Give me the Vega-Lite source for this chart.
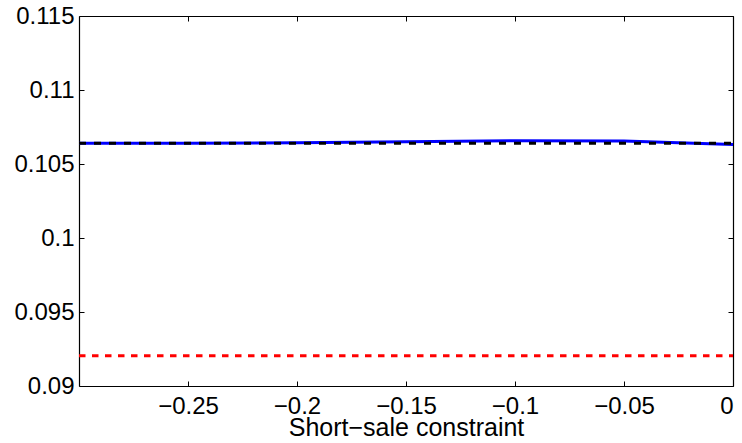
{
  "$schema": "https://vega.github.io/schema/vega-lite/v6.json",
  "width": 654,
  "height": 370,
  "autosize": {"type": "none"},
  "padding": {"left": 79, "top": 16, "right": 9, "bottom": 57},
  "background": "white",
  "config": {
    "view": {"stroke": null},
    "axis": {
      "grid": false,
      "domainColor": "black",
      "domainWidth": 1.2,
      "tickColor": "black",
      "tickSize": -5,
      "tickWidth": 1,
      "labelFont": "Liberation Sans",
      "labelFontSize": 24,
      "labelColor": "black",
      "titleFont": "Liberation Sans",
      "titleFontSize": 25,
      "titleFontWeight": "normal",
      "titleColor": "black"
    }
  },
  "data": {
    "values": [
      {"series": "blue", "x": -0.3, "y": 0.10640},
      {"series": "blue", "x": -0.25, "y": 0.10641},
      {"series": "blue", "x": -0.2, "y": 0.10643},
      {"series": "blue", "x": -0.15, "y": 0.10650},
      {"series": "blue", "x": -0.1, "y": 0.10657},
      {"series": "blue", "x": -0.05, "y": 0.10655},
      {"series": "blue", "x": 0, "y": 0.10632},
      {"series": "black", "x": -0.3, "y": 0.10640},
      {"series": "black", "x": -0.25, "y": 0.10640},
      {"series": "black", "x": -0.2, "y": 0.10640},
      {"series": "black", "x": -0.15, "y": 0.10640},
      {"series": "black", "x": -0.1, "y": 0.10640},
      {"series": "black", "x": -0.05, "y": 0.10640},
      {"series": "black", "x": 0, "y": 0.10640},
      {"series": "red", "x": -0.3, "y": 0.09205},
      {"series": "red", "x": -0.25, "y": 0.09205},
      {"series": "red", "x": -0.2, "y": 0.09205},
      {"series": "red", "x": -0.15, "y": 0.09205},
      {"series": "red", "x": -0.1, "y": 0.09205},
      {"series": "red", "x": -0.05, "y": 0.09205},
      {"series": "red", "x": 0, "y": 0.09205}
    ]
  },
  "layer": [
    {
      "transform": [{"filter": "datum.series === 'blue'"}],
      "mark": {"type": "line", "color": "#0000ff", "strokeWidth": 3, "clip": true},
      "encoding": {
        "x": {
          "field": "x", "type": "quantitative",
          "scale": {"domain": [-0.3, 0], "nice": false, "zero": false},
          "axis": {
            "orient": "bottom",
            "title": "Short−sale constraint",
            "values": [-0.25, -0.2, -0.15, -0.1, -0.05, 0],
            "format": "~g",
            "labelBaseline": "alphabetic",
            "labelPadding": 32,
            "titleBaseline": "alphabetic",
            "titleY": 49
          }
        },
        "y": {
          "field": "y", "type": "quantitative",
          "scale": {"domain": [0.09, 0.115], "nice": false, "zero": false},
          "axis": {
            "orient": "left",
            "title": null,
            "values": [0.09, 0.095, 0.1, 0.105, 0.11, 0.115],
            "format": "~g",
            "labelPadding": 10
          }
        }
      }
    },
    {
      "transform": [{"filter": "datum.series === 'black'"}],
      "mark": {"type": "line", "color": "black", "strokeWidth": 3, "strokeDash": [7, 8], "clip": true},
      "encoding": {
        "x": {
          "field": "x", "type": "quantitative",
          "scale": {"domain": [-0.3, 0], "nice": false, "zero": false},
          "axis": {
            "orient": "top", "title": null, "labels": false,
            "values": [-0.25, -0.2, -0.15, -0.1, -0.05, 0]
          }
        },
        "y": {
          "field": "y", "type": "quantitative",
          "scale": {"domain": [0.09, 0.115], "nice": false, "zero": false},
          "axis": {
            "orient": "right", "title": null, "labels": false,
            "values": [0.09, 0.095, 0.1, 0.105, 0.11, 0.115]
          }
        }
      }
    },
    {
      "transform": [{"filter": "datum.series === 'red'"}],
      "mark": {"type": "line", "color": "#ff0000", "strokeWidth": 3, "strokeDash": [6.5, 6.5], "clip": true},
      "encoding": {
        "x": {"field": "x", "type": "quantitative", "scale": {"domain": [-0.3, 0], "nice": false, "zero": false}, "axis": null},
        "y": {"field": "y", "type": "quantitative", "scale": {"domain": [0.09, 0.115], "nice": false, "zero": false}, "axis": null}
      }
    }
  ],
  "resolve": {"axis": {"x": "independent", "y": "independent"}}
}
